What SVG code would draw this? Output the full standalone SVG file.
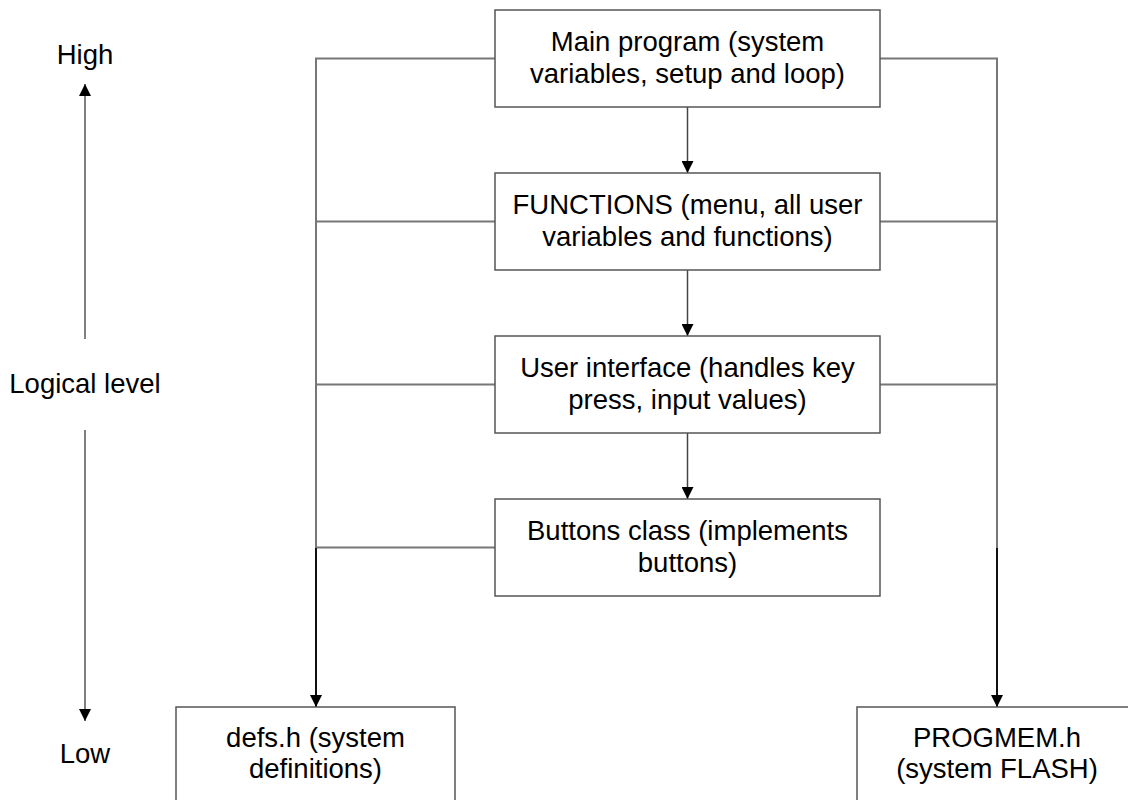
<svg xmlns="http://www.w3.org/2000/svg" width="1128" height="800" viewBox="0 0 1128 800">
  <defs>
    <marker id="head" viewBox="0 0 12 12" refX="12" refY="6" markerWidth="12" markerHeight="12" markerUnits="userSpaceOnUse" orient="auto">
      <path d="M0,0 L12,6 L0,12 Z" fill="#000"/>
    </marker>
    <style>
      .box { fill: #fff; stroke: #555; stroke-width: 1.5; }
      .lbl { font-family: "Liberation Sans", Arial, sans-serif; font-size: 27.5px; fill: #000; text-anchor: middle; }
      .link { fill: none; stroke: #777; stroke-width: 2; }
      .flow { fill: none; stroke: #444; stroke-width: 1.5; }
      .down { fill: none; stroke: #111; stroke-width: 2; }
      .axis { fill: none; stroke: #808080; stroke-width: 2; }
    </style>
  </defs>
  <rect width="1128" height="800" fill="#fff"/>

  <!-- level axis -->
  <g id="axis">
    <text class="lbl" x="85" y="64">High</text>
    <line class="axis" x1="85" y1="339" x2="85" y2="84" marker-end="url(#head)"/>
    <text class="lbl" x="85" y="393">Logical level</text>
    <line class="axis" x1="85" y1="430" x2="85" y2="721" marker-end="url(#head)"/>
    <text class="lbl" x="85" y="763">Low</text>
  </g>

  <!-- connectors -->
  <g id="connectors">
    <!-- side branches to defs.h -->
    <path class="link" d="M495,58.5 H316 V548"/>
    <line class="link" x1="316" y1="221.5" x2="495" y2="221.5"/>
    <line class="link" x1="316" y1="384.5" x2="495" y2="384.5"/>
    <line class="link" x1="316" y1="547.5" x2="495" y2="547.5"/>
    <line class="down" x1="316" y1="548" x2="316" y2="707" marker-end="url(#head)"/>
    <!-- side branches to PROGMEM.h -->
    <path class="link" d="M880,58.5 H997 V548"/>
    <line class="link" x1="880" y1="221.5" x2="997" y2="221.5"/>
    <line class="link" x1="880" y1="384.5" x2="997" y2="384.5"/>
    <line class="down" x1="997" y1="548" x2="997" y2="707" marker-end="url(#head)"/>
    <!-- main chain -->
    <line class="flow" x1="687.5" y1="107" x2="687.5" y2="173" marker-end="url(#head)"/>
    <line class="flow" x1="687.5" y1="270" x2="687.5" y2="336" marker-end="url(#head)"/>
    <line class="flow" x1="687.5" y1="433" x2="687.5" y2="499" marker-end="url(#head)"/>
  </g>

  <g id="main">
    <rect class="box" x="495" y="10" width="385" height="97"/>
    <text class="lbl" x="687.5" y="50.5">Main program (system</text>
    <text class="lbl" x="687.5" y="82.5">variables, setup and loop)</text>
  </g>

  <g id="functions">
    <rect class="box" x="495" y="173" width="385" height="97"/>
    <text class="lbl" x="687.5" y="213.5">FUNCTIONS (menu, all user</text>
    <text class="lbl" x="687.5" y="245.5">variables and functions)</text>
  </g>

  <g id="ui">
    <rect class="box" x="495" y="336" width="385" height="97"/>
    <text class="lbl" x="687.5" y="376.5">User interface (handles key</text>
    <text class="lbl" x="687.5" y="408.5">press, input values)</text>
  </g>

  <g id="buttons">
    <rect class="box" x="495" y="499" width="385" height="97"/>
    <text class="lbl" x="687.5" y="539.5">Buttons class (implements</text>
    <text class="lbl" x="687.5" y="571.5">buttons)</text>
  </g>

  <g id="defs">
    <rect class="box" x="176" y="707" width="279" height="120"/>
    <text class="lbl" x="315.5" y="747">defs.h (system</text>
    <text class="lbl" x="315.5" y="778">definitions)</text>
  </g>

  <g id="progmem">
    <rect class="box" x="857" y="707" width="280" height="120"/>
    <text class="lbl" x="997" y="747">PROGMEM.h</text>
    <text class="lbl" x="997" y="778">(system FLASH)</text>
  </g>
</svg>
